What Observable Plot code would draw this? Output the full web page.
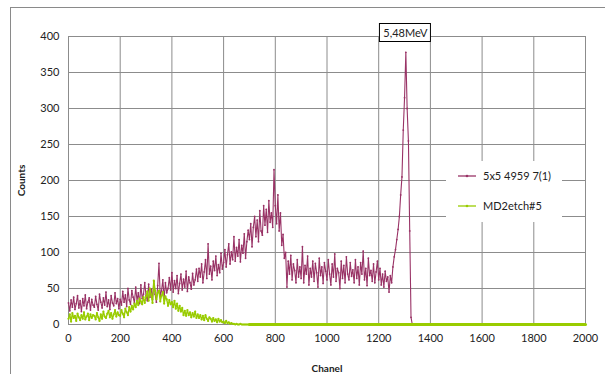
<!DOCTYPE html>
<html><head><meta charset="utf-8">
<script src="https://cdn.jsdelivr.net/npm/d3@7"></script>
<script src="https://cdn.jsdelivr.net/npm/@observablehq/plot@0.6"></script>
<style>
body{margin:0;background:#fff;font-family:Lato,"Liberation Sans",sans-serif;}
#wrap{position:relative;width:605px;height:374px;overflow:hidden;}
#frame{position:absolute;left:10px;top:7px;width:620px;height:400px;border-left:1px solid #8a8a8a;border-top:1px solid #8a8a8a;pointer-events:none;}
#legend{position:absolute;left:446px;top:161px;width:116px;height:61px;background:#fff;font-size:11px;color:#222;}
.lg{position:absolute;left:12px;display:flex;align-items:center;}
.lg span{margin-left:7px;}
#anno{position:absolute;top:23px;height:17px;line-height:17px;border:1px solid #000;background:#fff;font-size:11px;color:#222;padding:0 3px;transform:translateX(-50%);white-space:nowrap;}
g[aria-label="x-axis label"] text, g[aria-label="y-axis label"] text{font-weight:bold;font-size:10px;}
</style></head>
<body><div id="wrap"></div>
<script>
// channel spacing of the arrays below
const maroonStep = 5;
const greenStep = 5;
const seriesNames = ["5x5 4959 7(1)", "MD2etch#5"];
const seriesColors = ["#993366", "#99cc00"];
const xTicks = [0,200,400,600,800,1000,1200,1400,1600,1800,2000];
const yTicks = [0,50,100,150,200,250,300,350,400];
const peakLabel = "5,48MeV";
const peakChannel = 1305;

// 5x5 4959 7(1): counts from channel 0, every 5 channels
const maroonCounts = [
 30,19,34,24,38,21,29,40,23,33,18,36,26,41,22,31,37,20,35,27,
 24,39,28,20,42,31,23,37,27,45,25,34,21,40,30,26,44,29,36,22,
 35,27,46,31,41,25,50,34,28,47,38,30,52,33,44,29,55,36,42,58,
 40,33,56,38,49,35,60,42,31,54,85,39,47,62,36,58,44,50,65,48,
 72,45,61,50,68,43,57,70,48,63,52,74,46,66,58,49,71,55,62,77,
 60,78,66,84,58,73,90,64,112,70,81,62,88,75,95,68,83,72,99,77,
 86,104,80,97,112,84,101,90,122,88,107,95,118,87,110,99,126,92,115,131,
 118,140,108,135,150,122,145,115,158,130,124,165,138,160,128,172,142,155,135,215,
 165,140,180,130,155,110,125,92,100,52,88,70,96,62,84,75,58,90,66,80,
 64,108,58,82,70,95,55,78,66,88,60,85,72,52,92,68,80,57,86,74,
 62,90,70,55,84,66,98,60,78,72,50,88,64,82,58,94,70,62,86,67,
 76,58,90,64,80,55,86,70,102,62,78,54,92,68,75,60,84,58,73,88,
 62,78,55,70,52,74,60,66,45,68,58,80,94,104,118,132,150,180,205,270,
 315,378,300,255,130,10,0
];

// MD2etch#5: counts from channel 0, every 5 channels
const greenCounts = [
 8,14,4,16,9,12,5,15,10,6,13,8,17,7,11,15,6,14,9,13,
 12,7,16,10,5,14,8,18,11,9,15,19,10,16,8,14,20,11,17,13,
 12,20,15,10,22,17,13,24,18,26,21,29,24,33,27,36,32,28,38,30,
 39,46,33,50,41,30,61,47,35,44,47,32,40,45,29,39,35,26,34,28,
 31,24,33,22,29,19,26,18,23,13,19,12,20,13,17,10,16,11,18,9,
 14,9,13,7,12,6,13,8,5,10,8,4,9,5,7,3,8,4,6,3,
 4,2,5,2,3,1,2,1,1,0,1,0,0,1,0,0,0,0,0,0,
 0
];
// zero tail of MD2etch#5 to the end of the spectrum
const greenTailChannels = [700, 2000];
const greenTailCounts = [0, 0];

const maroon = maroonCounts.map((v,i)=>({ch:i*maroonStep, v}));
const green = greenCounts.map((v,i)=>({ch:i*greenStep, v}));
const greenTail = greenTailChannels.map((c,i)=>({ch:c, v:greenTailCounts[i]}));

const chart = Plot.plot({
  width:605, height:374,
  marginLeft:68, marginRight:20, marginTop:36, marginBottom:50,
  style:{fontFamily:"Lato, 'Liberation Sans', sans-serif", fontSize:"11px", color:"#222", background:"transparent"},
  x:{domain:[0,2000], ticks:xTicks, tickFormat:d=>String(d), tickSize:0, tickPadding:10, label:"Chanel", labelAnchor:"center", labelOffset:47, labelArrow:"none"},
  y:{domain:[0,400], ticks:yTicks, tickFormat:d=>String(d), tickSize:0, tickPadding:9, label:"Counts", labelAnchor:"center", labelOffset:51, labelArrow:"none"},
  marks:[
    Plot.gridX(xTicks,{stroke:"#8c8c8c", strokeOpacity:1}),
    Plot.gridY(yTicks,{stroke:"#8c8c8c", strokeOpacity:1}),
    Plot.line(maroon,{x:"ch", y:"v", stroke:seriesColors[0], strokeWidth:1.1}),
    Plot.dot(maroon,{x:"ch", y:"v", fill:seriesColors[0], r:0.9}),
    Plot.line(green,{x:"ch", y:"v", stroke:seriesColors[1], strokeWidth:1.4}),
    Plot.dot(green,{x:"ch", y:"v", fill:seriesColors[1], r:1.1}),
    Plot.line(greenTail,{x:"ch", y:"v", stroke:seriesColors[1], strokeWidth:3})
  ]
});

const wrap = document.getElementById("wrap");
wrap.appendChild(chart);

const frame = document.createElement("div");
frame.id = "frame";
wrap.appendChild(frame);

const legend = document.createElement("div");
legend.id = "legend";
seriesNames.forEach((name,i)=>{
  const row = document.createElement("div");
  row.className = "lg";
  row.style.top = (i===0 ? 8 : 38) + "px";
  row.innerHTML = `<svg width="18" height="6"><line x1="0" y1="3" x2="18" y2="3" stroke="${seriesColors[i]}" stroke-width="1.3"/><circle cx="9" cy="3" r="1.3" fill="${seriesColors[i]}"/></svg><span>${name}</span>`;
  legend.appendChild(row);
});
wrap.appendChild(legend);

const anno = document.createElement("div");
anno.id = "anno";
anno.textContent = peakLabel;
anno.style.left = chart.scale("x").apply(peakChannel) + "px";
wrap.appendChild(anno);
</script>
</body></html>
